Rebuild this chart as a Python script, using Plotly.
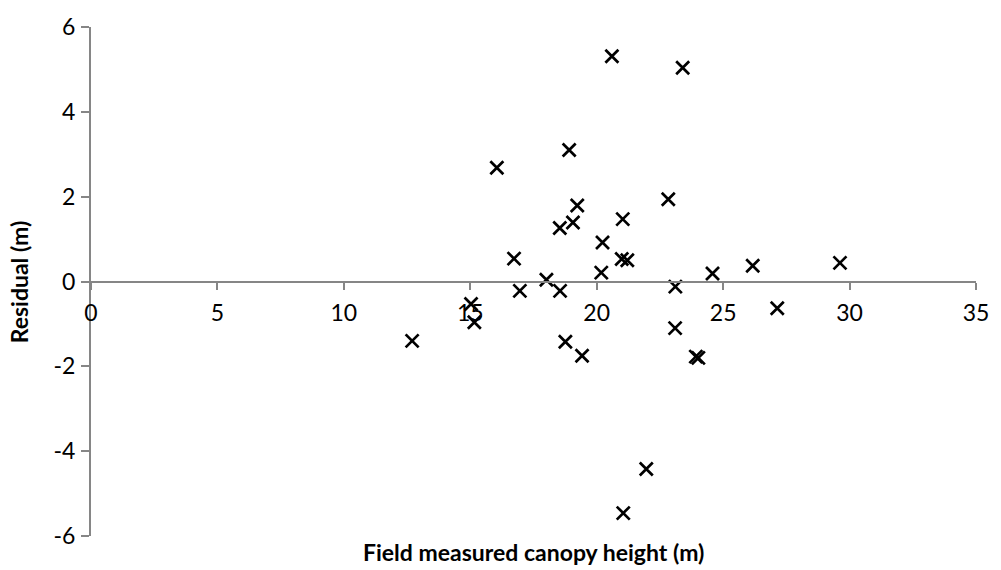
import plotly.graph_objects as go

# Field measured canopy height (m) and model residual (m) for each plot
canopy_height = [12.70, 15.03, 15.16, 16.05, 16.73, 16.96, 18.01, 18.54, 18.55, 18.76,
                 18.91, 19.06, 19.23, 19.42, 20.18, 20.23, 20.60, 20.99, 21.03, 21.05,
                 21.21, 21.96, 22.83, 23.11, 23.10, 23.40, 23.92, 24.02, 24.58, 26.17,
                 27.14, 29.62]
residual = [-1.40, -0.53, -0.96, 2.68, 0.54, -0.22, 0.04, 1.26, -0.22, -1.42,
            3.10, 1.39, 1.79, -1.75, 0.21, 0.92, 5.31, 0.53, 1.47, -5.46,
            0.50, -4.42, 1.94, -0.12, -1.10, 5.04, -1.77, -1.80, 0.19, 0.37,
            -0.63, 0.44]

x_ticks = [0, 5, 10, 15, 20, 25, 30, 35]
y_ticks = [-6, -4, -2, 0, 2, 4, 6]
y_tick_labels = ["-6", "-4", "-2", "0", "2", "4", "6"]

axis_grey = "#868686"
font_family = "Lato, 'Open Sans', sans-serif"

fig = go.Figure(
    go.Scatter(
        x=canopy_height,
        y=residual,
        mode="markers",
        marker=dict(symbol="x-thin", size=13, color="black",
                    line=dict(color="black", width=2.7)),
        cliponaxis=False,
        showlegend=False,
    )
)

fig.update_layout(
    width=1001,
    height=570,
    margin=dict(l=91, r=14, t=23, b=34),
    paper_bgcolor="white",
    plot_bgcolor="white",
    font=dict(family=font_family, size=23, color="black"),
    xaxis=dict(
        range=[0, 35],
        tickvals=x_ticks,
        showgrid=False,
        zeroline=False,
        showline=True,
        linecolor=axis_grey,
        linewidth=2,
        ticks="outside",
        ticklen=7,
        tickwidth=2,
        tickcolor=axis_grey,
        anchor="free",
        position=0.5,
        ticklabelstandoff=4,
    ),
    yaxis=dict(
        range=[-6, 6],
        tickvals=y_ticks,
        ticktext=y_tick_labels,
        showgrid=False,
        zeroline=False,
        showline=True,
        linecolor=axis_grey,
        linewidth=2,
        ticks="outside",
        ticklen=8,
        tickwidth=2,
        tickcolor=axis_grey,
        ticklabelstandoff=1,
    ),
    annotations=[
        dict(text="<b>Field measured canopy height (m)</b>", xref="paper", yref="paper",
             x=0.5, y=-0.031, xanchor="center", yanchor="middle", showarrow=False,
             font=dict(family=font_family, size=23, color="black")),
        dict(text="<b>Residual (m)</b>", xref="paper", yref="paper",
             x=-0.0815, y=0.5, xanchor="center", yanchor="middle", textangle=-90,
             showarrow=False, font=dict(family=font_family, size=23, color="black")),
    ],
)

fig.write_html("out.html")
